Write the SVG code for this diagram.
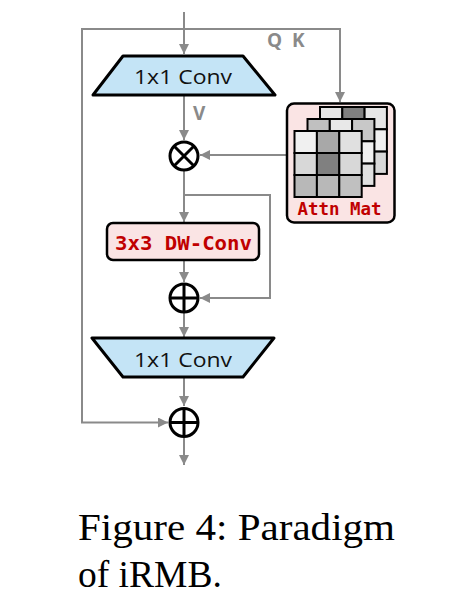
<svg xmlns="http://www.w3.org/2000/svg" width="475" height="603" viewBox="0 0 475 603">
<style>
.conn{fill:none;stroke:#8a8a8a;stroke-width:2}
.trap{fill:#c4e4f6;stroke:#000;stroke-width:3;stroke-linejoin:round}
.op{fill:#fff;stroke:#000;stroke-width:3}
.box{fill:#fae4e4;stroke:#000;stroke-width:2.5}
.conv{font-family:"Open Sans","Liberation Sans",sans-serif;font-size:19.5px;fill:#111}
.red{font-family:"DejaVu Sans Mono","Liberation Mono",monospace;font-weight:bold;fill:#c00000}
.gray{font-family:"Open Sans","Liberation Sans",sans-serif;font-weight:bold;fill:#8a8a8a;font-size:19px}
.cap{font-family:"Liberation Serif","Times New Roman",serif;font-size:37.5px;fill:#000}
.g rect{stroke:#000;stroke-width:2}
</style>
<defs>
<marker id="ah" viewBox="0 0 10 10" refX="10" refY="5" markerWidth="10" markerHeight="10" markerUnits="userSpaceOnUse" orient="auto">
<path d="M0,0 L10,5 L0,10 z" fill="#8a8a8a"/>
</marker>
</defs>
<g id="connectors">
<path class="conn" d="M184,12 V54" marker-end="url(#ah)"/>
<path class="conn" d="M184,29 H340 V102" marker-end="url(#ah)"/>
<path class="conn" d="M184,29 H82 V422.5 H168" marker-end="url(#ah)"/>
<path class="conn" d="M184,95 V140" marker-end="url(#ah)"/>
<path class="conn" d="M287,155 H200" marker-end="url(#ah)"/>
<path class="conn" d="M184,171 V222" marker-end="url(#ah)"/>
<path class="conn" d="M184,195 H270 V298 H200" marker-end="url(#ah)"/>
<path class="conn" d="M184,260 V282" marker-end="url(#ah)"/>
<path class="conn" d="M184,313 V337" marker-end="url(#ah)"/>
<path class="conn" d="M184,377 V406" marker-end="url(#ah)"/>
<path class="conn" d="M184,438 V465" marker-end="url(#ah)"/>
</g>
<g id="conv1">
<polygon class="trap" points="123,56 243,56 275,95 93,95"/>
<text class="conv" x="183" y="84" text-anchor="middle" textLength="98" lengthAdjust="spacingAndGlyphs">1x1  Conv</text>
</g>
<text class="gray" x="193" y="119.5">V</text>
<text class="gray" x="267" y="47">Q</text>
<text class="gray" x="292" y="47">K</text>
<g id="mul">
<circle class="op" cx="184" cy="156" r="14"/>
<path d="M174,146 L194,166 M194,146 L174,166" stroke="#000" stroke-width="3"/>
</g>
<g id="attn">
<rect class="box" x="287" y="103.5" width="107.5" height="119" rx="7"/>
<g class="g">
<rect x="320" y="107" width="22.3" height="22.3" fill="#e6e6e6"/>
<rect x="342.3" y="107" width="22.3" height="22.3" fill="#808080"/>
<rect x="364.6" y="107" width="22.3" height="22.3" fill="#e6e6e6"/>
<rect x="320" y="129.3" width="22.3" height="22.3" fill="#d0d0d0"/>
<rect x="342.3" y="129.3" width="22.3" height="22.3" fill="#c0c0c0"/>
<rect x="364.6" y="129.3" width="22.3" height="22.3" fill="#f0f0f0"/>
<rect x="320" y="151.6" width="22.3" height="22.3" fill="#c8c8c8"/>
<rect x="342.3" y="151.6" width="22.3" height="22.3" fill="#b0b0b0"/>
<rect x="364.6" y="151.6" width="22.3" height="22.3" fill="#d8d8d8"/>
</g>
<g class="g">
<rect x="307.5" y="119" width="22.3" height="22.3" fill="#c0c0c0"/>
<rect x="329.8" y="119" width="22.3" height="22.3" fill="#e8e8e8"/>
<rect x="352.1" y="119" width="22.3" height="22.3" fill="#c8c8c8"/>
<rect x="307.5" y="141.3" width="22.3" height="22.3" fill="#d0d0d0"/>
<rect x="329.8" y="141.3" width="22.3" height="22.3" fill="#b8b8b8"/>
<rect x="352.1" y="141.3" width="22.3" height="22.3" fill="#f0f0f0"/>
<rect x="307.5" y="163.6" width="22.3" height="22.3" fill="#c8c8c8"/>
<rect x="329.8" y="163.6" width="22.3" height="22.3" fill="#c0c0c0"/>
<rect x="352.1" y="163.6" width="22.3" height="22.3" fill="#e0e0e0"/>
</g>
<g class="g">
<rect x="294.5" y="131" width="22.4" height="22" fill="#f0f0f0"/>
<rect x="316.9" y="131" width="22.4" height="22" fill="#a8a8a8"/>
<rect x="339.3" y="131" width="22.4" height="22" fill="#e0e0e0"/>
<rect x="294.5" y="153" width="22.4" height="22" fill="#d8d8d8"/>
<rect x="316.9" y="153" width="22.4" height="22" fill="#808080"/>
<rect x="339.3" y="153" width="22.4" height="22" fill="#d8d8d8"/>
<rect x="294.5" y="175" width="22.4" height="22" fill="#b8b8b8"/>
<rect x="316.9" y="175" width="22.4" height="22" fill="#b8b8b8"/>
<rect x="339.3" y="175" width="22.4" height="22" fill="#c0c0c0"/>
</g>
<text class="red" x="297.5" y="215" font-size="17.5" textLength="84" lengthAdjust="spacingAndGlyphs">Attn Mat</text>
</g>
<g id="dwconv">
<rect class="box" x="107" y="223" width="152" height="37" rx="6"/>
<text class="red" x="115" y="250" font-size="19" textLength="137" lengthAdjust="spacingAndGlyphs">3x3 DW-Conv</text>
</g>
<g id="add1">
<circle class="op" cx="184" cy="298" r="14"/>
<path d="M184,284 V312 M170,298 H198" stroke="#000" stroke-width="3"/>
</g>
<g id="conv2">
<polygon class="trap" points="92,338 274,338 243,377 123,377"/>
<text class="conv" x="183" y="367" text-anchor="middle" textLength="98" lengthAdjust="spacingAndGlyphs">1x1  Conv</text>
</g>
<g id="add2">
<circle class="op" cx="184" cy="422.5" r="14"/>
<path d="M184,408.5 V436.5 M170,422.5 H198" stroke="#000" stroke-width="3"/>
</g>
<text class="cap" x="78" y="540" textLength="317" lengthAdjust="spacingAndGlyphs">Figure 4: Paradigm</text>
<text class="cap" x="78" y="587">of iRMB.</text>
</svg>
